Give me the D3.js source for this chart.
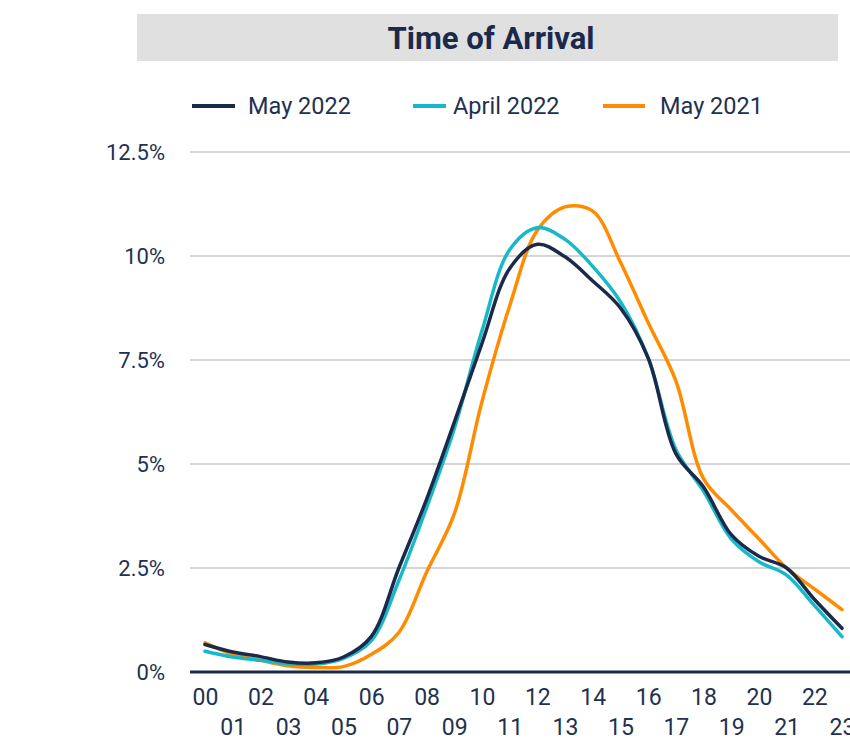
<!DOCTYPE html>
<html>
<head>
<meta charset="utf-8">
<script src="https://cdn.jsdelivr.net/npm/d3@7"></script>
<style>
  html, body { margin: 0; padding: 0; background: #fff; }
  svg { display: block; font-family: Roboto, "Noto Sans", sans-serif; }
</style>
</head>
<body>
<svg id="chart" width="850" height="738"></svg>
<script>
const hours = ["00","01","02","03","04","05","06","07","08","09","10","11","12","13","14","15","16","17","18","19","20","21","22","23"];
const may2022 = [0.66,0.48,0.37,0.24,0.22,0.36,0.85,2.5,4.15,6.0,7.9,9.7,10.28,9.98,9.4,8.75,7.55,5.25,4.45,3.3,2.78,2.5,1.75,1.05];
const april2022 = [0.5,0.36,0.28,0.2,0.19,0.33,0.75,2.2,3.95,5.85,8.2,10.15,10.68,10.4,9.75,8.9,7.55,5.35,4.35,3.2,2.65,2.33,1.6,0.85];
const may2021 = [0.7,0.43,0.28,0.15,0.11,0.13,0.42,0.95,2.4,3.8,6.5,8.8,10.62,11.18,11.08,9.85,8.4,7.0,4.65,3.9,3.2,2.5,2.0,1.5];
const yTicks = [0, 2.5, 5, 7.5, 10, 12.5];
const yTickLabels = ["0%","2.5%","5%","7.5%","10%","12.5%"];
const seriesNames = ["May 2022","April 2022","May 2021"];
const seriesColors = ["#1b2a4a","#17b9c9","#ff8c00"];
const seriesData = [may2022, april2022, may2021];

const svg = d3.select("#chart");
const textColor = "#22314f";

// Title bar
svg.append("rect").attr("x",137).attr("y",14).attr("width",701).attr("height",47).attr("fill","#e0e0e0");
svg.append("text").attr("x",491).attr("y",49).attr("text-anchor","middle")
  .attr("font-size",31).attr("font-weight",700).attr("fill","#1b2a4a").text("Time of Arrival");

// Scales
const x = d3.scalePoint().domain(hours).range([205, 842]);
const y = d3.scaleLinear().domain([0, 12.5]).range([672, 152]);

// Grid
const gridG = svg.append("g");
gridG.selectAll("line").data(yTicks.filter(d => d > 0)).join("line")
  .attr("x1",190).attr("x2",850)
  .attr("y1",d => y(d)).attr("y2",d => y(d))
  .attr("stroke","#d4d4d4").attr("stroke-width",2);

// Y axis labels
const yAxis = d3.axisLeft(y).tickValues(yTicks).tickFormat((d,i) => yTickLabels[i]).tickSize(0).tickPadding(0);
const yG = svg.append("g").attr("transform","translate(165,0)").call(yAxis);
yG.select(".domain").remove();
yG.selectAll("text").attr("font-size",22).attr("fill",textColor).attr("font-family","Roboto, sans-serif");

// Lines
const line = d3.line().x((d,i) => x(hours[i])).y(d => y(d)).curve(d3.curveCatmullRom.alpha(0.5));
[2,1,0].forEach(k => {
  svg.append("path").datum(seriesData[k]).attr("d", line)
    .attr("fill","none").attr("stroke",seriesColors[k]).attr("stroke-width",3.5)
    .attr("stroke-linejoin","round").attr("stroke-linecap","round");
});

// X axis
const xAxis = d3.axisBottom(x).tickSize(0).tickPadding(0);
const xG = svg.append("g").attr("transform","translate(0,672)").call(xAxis);
xG.select(".domain").remove();
svg.append("line").attr("x1",190).attr("x2",850).attr("y1",672).attr("y2",672)
  .attr("stroke","#1b2a4a").attr("stroke-width",3);
xG.selectAll("text")
  .attr("font-size",23).attr("fill",textColor).attr("font-family","Roboto, sans-serif")
  .attr("dy",null)
  .attr("y",(d,i) => i % 2 === 0 ? 33 : 63);

// Legend
const legendItems = [
  {x0:192, x1:235, tx:248},
  {x0:413, x1:446, tx:453},
  {x0:603, x1:645, tx:660}
];
legendItems.forEach((it,k) => {
  svg.append("line").attr("x1",it.x0).attr("x2",it.x1).attr("y1",106).attr("y2",106)
    .attr("stroke",seriesColors[k]).attr("stroke-width",4);
  svg.append("text").attr("x",it.tx).attr("y",114).attr("font-size",23.5)
    .attr("fill",textColor).text(seriesNames[k]);
});
</script>
</body>
</html>
